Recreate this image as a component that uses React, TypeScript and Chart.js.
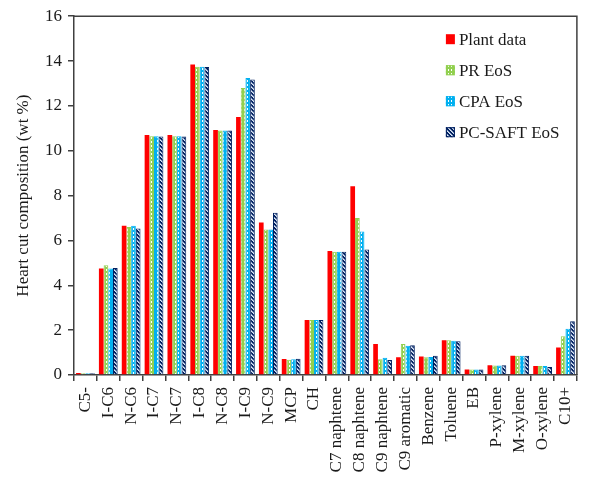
import React, { useEffect, useRef } from "react";
import { Chart, registerables } from "chart.js";

Chart.register(...registerables);

const categories = [
  "C5-", "I-C6", "N-C6", "I-C7", "N-C7", "I-C8", "N-C8", "I-C9", "N-C9", "MCP", "CH",
  "C7 naphtene", "C8 naphtene", "C9 naphtene", "C9 aromatic", "Benzene", "Toluene",
  "EB", "P-xylene", "M-xylene", "O-xylene", "C10+",
];
const seriesNames = ["Plant data", "PR EoS", "CPA EoS", "PC-SAFT EoS"];
const plantData = [0.09, 4.75, 6.65, 10.7, 10.7, 13.85, 10.92, 11.5, 6.8, 0.71, 2.45, 5.53, 8.42, 1.38, 0.79, 0.82, 1.55, 0.25, 0.43, 0.86, 0.4, 1.23];
const prEos = [0.08, 4.89, 6.6, 10.65, 10.65, 13.75, 10.9, 12.8, 6.49, 0.68, 2.45, 5.5, 7.0, 0.7, 1.38, 0.79, 1.55, 0.25, 0.42, 0.86, 0.4, 1.73];
const cpaEos = [0.08, 4.75, 6.65, 10.65, 10.65, 13.75, 10.9, 13.24, 6.49, 0.7, 2.45, 5.5, 6.4, 0.77, 1.3, 0.8, 1.53, 0.25, 0.42, 0.86, 0.4, 2.06];
const pcSaftEos = [0.08, 4.77, 6.53, 10.63, 10.63, 13.73, 10.9, 13.18, 7.23, 0.72, 2.45, 5.5, 5.6, 0.67, 1.33, 0.86, 1.5, 0.25, 0.43, 0.86, 0.36, 2.4];
const yTicks = [0, 2, 4, 6, 8, 10, 12, 14, 16];
const yTitle = "Heart cut composition (wt %)";

const FONT = "'Liberation Serif', 'Times New Roman', serif";
const TEXT = "#1a1a1a";
const AXIS = "#404040";

function makePattern(w: number, h: number, draw: (g: CanvasRenderingContext2D) => void) {
  const c = document.createElement("canvas");
  c.width = w;
  c.height = h;
  const g = c.getContext("2d")!;
  draw(g);
  return g.createPattern(c, "repeat")!;
}

const boxPlugin = {
  id: "boxBorder",
  afterDraw(chart: any) {
    const { ctx, chartArea } = chart;
    ctx.save();
    ctx.strokeStyle = AXIS;
    ctx.lineWidth = 1.5;
    ctx.beginPath();
    ctx.moveTo(chartArea.left, chartArea.top);
    ctx.lineTo(chartArea.right, chartArea.top);
    ctx.lineTo(chartArea.right, chartArea.bottom);
    ctx.stroke();
    ctx.restore();
  },
};

const legendPlugin = {
  id: "innerLegend",
  afterDraw(chart: any) {
    const { ctx, chartArea } = chart;
    const x0 = chartArea.right - 131;
    ctx.save();
    chart.data.datasets.forEach((ds: any, i: number) => {
      const cy = chartArea.top + 23 + i * 31;
      ctx.fillStyle = ds.backgroundColor;
      ctx.fillRect(x0, cy - 5, 9, 10);
      if (ds.borderWidth) {
        ctx.strokeStyle = ds.borderColor;
        ctx.lineWidth = 1;
        ctx.strokeRect(x0 + 0.5, cy - 4.5, 8, 9);
      }
      ctx.fillStyle = TEXT;
      ctx.font = `17px ${FONT}`;
      ctx.textBaseline = "middle";
      ctx.textAlign = "left";
      ctx.fillText(ds.label, x0 + 13, cy + 1);
    });
    ctx.restore();
  },
};

export default function App() {
  const ref = useRef<HTMLCanvasElement>(null);
  useEffect(() => {
    const green = "#92D050";
    const blue = "#00B0F0";
    const navy = "#002060";
    const prPat = makePattern(3, 4, (g) => {
      g.fillStyle = green;
      g.fillRect(0, 0, 3, 4);
      g.fillStyle = "#ffffff";
      g.fillRect(1, 1, 1, 2);
    });
    const cpaPat = makePattern(3, 4, (g) => {
      g.fillStyle = blue;
      g.fillRect(0, 0, 3, 4);
      g.fillStyle = "#ffffff";
      g.fillRect(1, 0, 1, 2);
    });
    const saftPat = makePattern(4, 4, (g) => {
      g.fillStyle = navy;
      g.fillRect(0, 0, 4, 4);
      g.fillStyle = "#dfe8f5";
      for (let k = 0; k < 4; k++) g.fillRect(k, k, 1, 1);
      g.fillStyle = "#8fa6cc";
      for (let k = 0; k < 4; k++) g.fillRect((k + 1) % 4, k, 1, 1);
    });

    const seriesValues = [plantData, prEos, cpaEos, pcSaftEos];
    const fills = ["#FF0000", prPat, cpaPat, saftPat];
    const borders = ["#FF0000", green, blue, navy];

    const chart = new Chart(ref.current!, {
      type: "bar",
      data: {
        labels: categories,
        datasets: seriesNames.map((name, i) => ({
          label: name,
          data: seriesValues[i],
          backgroundColor: fills[i] as any,
          borderColor: borders[i],
          borderWidth: i === 0 ? 0 : 1,
          barPercentage: 1,
          categoryPercentage: 0.82,
        })),
      },
      options: {
        responsive: false,
        animation: false,
        layout: { padding: { left: 13, top: 15, right: 6, bottom: 0 } },
        plugins: {
          legend: { display: false },
          tooltip: { enabled: false },
        },
        scales: {
          x: {
            grid: {
              offset: true,
              drawOnChartArea: false,
              drawTicks: true,
              tickLength: 6,
              color: AXIS,
              lineWidth: 1.5,
            },
            border: { display: true, color: AXIS, width: 1.5, z: -1 },
            ticks: {
              autoSkip: false,
              minRotation: 90,
              maxRotation: 90,
              padding: 6,
              color: TEXT,
              font: { family: FONT, size: 17 },
            },
            afterFit(scale: any) {
              scale.height = 109;
            },
          },
          y: {
            min: 0,
            max: 16,
            afterBuildTicks(scale: any) {
              scale.ticks = yTicks.map((v) => ({ value: v }));
            },
            grid: {
              drawOnChartArea: false,
              drawTicks: true,
              tickLength: 6,
              color: AXIS,
              lineWidth: 1.5,
            },
            border: { display: true, color: AXIS, width: 1.5 },
            ticks: {
              padding: 6,
              color: TEXT,
              font: { family: FONT, size: 17 },
            },
            title: {
              display: true,
              text: yTitle,
              color: TEXT,
              font: { family: FONT, size: 17 },
              padding: 0,
            },
            afterFit(scale: any) {
              scale.width = 61;
            },
          },
        },
      },
      plugins: [boxPlugin, legendPlugin],
    });
    return () => chart.destroy();
  }, []);
  return (
    <div style={{ position: "fixed", left: 0, top: 0, width: 592, height: 484, background: "#fff" }}>
      <canvas ref={ref} width={592} height={484} />
    </div>
  );
}
